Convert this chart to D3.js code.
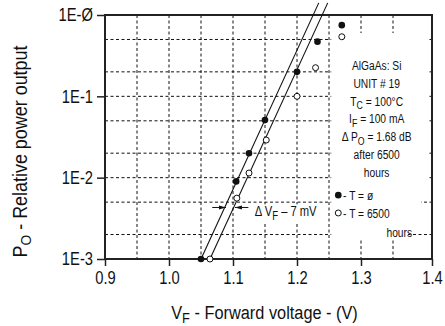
<!DOCTYPE html>
<html lang="en">
<head>
<meta charset="UTF-8">
<title>Forward voltage vs relative power output</title>
<style>
  body { margin: 0; background: #fff; }
  text { font-family: "Liberation Sans", Arial, sans-serif; fill: #111; }
</style>
</head>
<body>
<script src="https://d3js.org/d3.v7.min.js"></script>
<script>
  // data
  const vfT0 = [1.05, 1.105, 1.125, 1.15, 1.2, 1.232, 1.27];
  const poT0 = [0.001, 0.009, 0.02, 0.051, 0.2, 0.47, 0.75];
  const vfT6500 = [1.064, 1.106, 1.125, 1.152, 1.2, 1.229, 1.27];
  const poT6500 = [0.001, 0.0056, 0.0114, 0.029, 0.1, 0.225, 0.54];
  const fitLeft = [[1.05, 0.001], [1.234, 1.41]];
  const fitRight = [[1.064, 0.001], [1.248, 1.41]];

  const xTicks = [0.9, 1.0, 1.1, 1.2, 1.3, 1.4];
  const xGrid = [0.95, 1.0, 1.05, 1.1, 1.15, 1.2, 1.25, 1.3, 1.35];
  const yTicks = [0.001, 0.01, 0.1, 1];
  const yTickLabels = ['1E-3', '1E-2', '1E-1', '1E-Ø'];
  const yGrid = [0.002, 0.005, 0.01, 0.02, 0.05, 0.1, 0.2, 0.5];

  const noteLines = ['AlGaAs: Si', 'UNIT # 19', 'T|C| = 100°C', 'I|F| = 100 mA', 'Δ P|O| = 1.68 dB', 'after 6500', 'hours'];
  const legendLabels = ['- T = ø', '- T = 6500'];

  const W = 445, H = 326;
  const margin = { top: 15, right: 13, bottom: 67, left: 105 };
  const pw = W - margin.left - margin.right;
  const ph = H - margin.top - margin.bottom;

  const svg = d3.select('body').append('svg').attr('width', W).attr('height', H);
  const g = svg.append('g').attr('transform', `translate(${margin.left},${margin.top})`);

  const x = d3.scaleLinear().domain([0.9, 1.35, 1.4]).range([0, pw * 288 / 327, pw]);
  const y = d3.scaleLog().domain([0.001, 1]).range([ph, 0]);

  // text with |sub| markup
  function rich(sel, str, subSize) {
    str.split('|').forEach((part, i) => {
      if (!part) return;
      const t = sel.append('tspan').text(part);
      if (i % 2 === 1) t.attr('baseline-shift', '-30%').style('font-size', subSize);
    });
  }
  // the original type is a narrow face, so squeeze it sideways
  function place(sel, px, py, sx, rot) {
    sel.attr('transform', `translate(${px},${py})` + (rot ? ` rotate(${rot})` : '') + ` scale(${sx},1)`);
  }

  // grid
  g.append('g').selectAll('line').data(xGrid).join('line')
    .attr('x1', d => x(d)).attr('x2', d => x(d)).attr('y1', 0).attr('y2', ph)
    .attr('stroke', '#111').attr('stroke-width', 1).attr('stroke-dasharray', '3,2.5');
  g.append('g').selectAll('line').data(yGrid).join('line')
    .attr('y1', d => y(d)).attr('y2', d => y(d)).attr('x1', 0).attr('x2', pw)
    .attr('stroke', '#111').attr('stroke-width', 1).attr('stroke-dasharray', '3,2.5');

  // white backgrounds behind the note
  const bg = [[1.2535, 0.6, 1.394, 0.007], [1.2535, 0.0079, 1.386, 0.00285], [1.2535, 0.00285, 1.369, 0.00171]];
  g.append('g').selectAll('rect').data(bg).join('rect')
    .attr('x', d => x(d[0])).attr('y', d => y(d[1]))
    .attr('width', d => x(d[2]) - x(d[0])).attr('height', d => y(d[3]) - y(d[1]))
    .attr('fill', '#fff');

  // axes
  g.append('g').attr('transform', `translate(0,${ph})`)
    .call(d3.axisBottom(x).tickValues(xTicks).tickSize(7).tickPadding(5).tickFormat(d3.format('.1f')))
    .call(a => a.select('.domain').remove())
    .call(a => a.selectAll('line').attr('stroke', '#222').attr('stroke-width', 1.5))
    .call(a => a.selectAll('text').style('font-size', '18px').style('font-family', null)
      .attr('transform', 'scale(0.82,1)'));
  g.append('g')
    .call(d3.axisLeft(y).tickValues(yTicks).tickSize(8).tickPadding(4).tickFormat((d, i) => yTickLabels[i]))
    .call(a => a.select('.domain').remove())
    .call(a => a.selectAll('line').attr('stroke', '#222').attr('stroke-width', 1.5))
    .call(a => a.selectAll('text').style('font-size', '18px').style('font-family', null)
      .attr('x', -12 / 0.82).attr('transform', 'scale(0.82,1)'));

  // frame
  g.append('rect').attr('width', pw).attr('height', ph)
    .attr('fill', 'none').attr('stroke', '#222').attr('stroke-width', 2);

  // fitted lines
  const line = d3.line().x(d => x(d[0])).y(d => y(d[1]));
  g.append('g').selectAll('path').data([fitLeft, fitRight]).join('path')
    .attr('d', line).attr('fill', 'none').attr('stroke', '#111').attr('stroke-width', 1.1);

  // points
  g.append('g').selectAll('circle').data(d3.zip(vfT6500, poT6500)).join('circle')
    .attr('cx', d => x(d[0])).attr('cy', d => y(d[1])).attr('r', 3)
    .attr('fill', '#fff').attr('stroke', '#111').attr('stroke-width', 1);
  g.append('g').selectAll('circle').data(d3.zip(vfT0, poT0)).join('circle')
    .attr('cx', d => x(d[0])).attr('cy', d => y(d[1])).attr('r', 3.3)
    .attr('fill', '#111');

  // delta VF annotation
  svg.append('defs').append('marker').attr('id', 'ah')
    .attr('viewBox', '0 0 10 10').attr('refX', 10).attr('refY', 5)
    .attr('markerWidth', 7).attr('markerHeight', 7).attr('orient', 'auto')
    .append('path').attr('d', 'M0,2L10,5L0,8Z').attr('fill', '#111');
  const ya = y(0.0043);
  g.append('line').attr('x1', x(1.0675)).attr('x2', x(1.089)).attr('y1', ya).attr('y2', ya)
    .attr('stroke', '#111').attr('marker-end', 'url(#ah)');
  g.append('line').attr('x1', x(1.124)).attr('x2', x(1.103)).attr('y1', ya).attr('y2', ya)
    .attr('stroke', '#111').attr('marker-end', 'url(#ah)');
  const dv = g.append('g').call(s => place(s, x(1.134), ya + 9, 0.8));
  const dvBox = dv.append('rect').attr('fill', '#fff');
  const dvText = dv.append('text').style('font-size', '14px')
    .call(t => rich(t, 'Δ V|F| – 7 mV', '12px'));
  const bb = dvText.node().getBBox();
  dvBox.attr('x', bb.x - 2).attr('y', bb.y).attr('width', bb.width + 4).attr('height', bb.height);

  // note
  g.append('g').selectAll('text').data(noteLines).join('text')
    .attr('text-anchor', 'middle').style('font-size', '13.5px')
    .each(function (d, i) {
      const t = d3.select(this);
      place(t, x(1.3245), 55 + i * 17.8, 0.76);
      rich(t, d, '11.5px');
    });

  // legend
  const legY = [y(0.0061), y(0.00368)];
  g.append('circle').attr('cx', x(1.2645)).attr('cy', legY[0]).attr('r', 3.3).attr('fill', '#111');
  g.append('circle').attr('cx', x(1.2645)).attr('cy', legY[1]).attr('r', 3)
    .attr('fill', '#fff').attr('stroke', '#111');
  g.append('g').selectAll('text').data(legendLabels).join('text')
    .style('font-size', '13.5px').text(d => d)
    .each(function (d, i) { place(d3.select(this), x(1.272), legY[i] + 5, 0.76); });
  g.append('text').attr('text-anchor', 'end').style('font-size', '13.5px').text('hours')
    .call(t => place(t, x(1.3745), y(0.00215) + 5, 0.76));

  // axis titles
  svg.append('text').attr('text-anchor', 'middle').style('font-size', '19px')
    .call(t => place(t, 264.5, 319, 0.86))
    .call(t => rich(t, 'V|F| - Forward voltage - (V)', '15px'));
  svg.append('text').attr('text-anchor', 'middle').style('font-size', '19.5px')
    .call(t => place(t, 27, 151.5, 0.92, -90))
    .call(t => rich(t, 'P|O| - Relative power output', '15px'));
</script>
</body>
</html>
